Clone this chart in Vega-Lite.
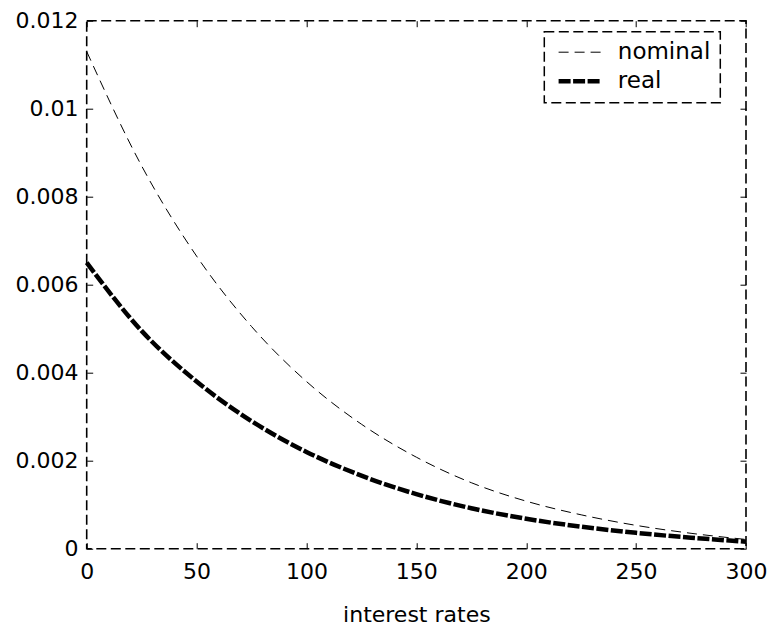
{
  "$schema": "https://vega.github.io/schema/vega-lite/v6.json",
  "width": 659.3,
  "height": 528,
  "autosize": {"type": "none"},
  "padding": {"left": 86.7, "top": 20.7, "right": 28, "bottom": 78.3},
  "background": "white",
  "config": {
    "font": "DejaVu Sans",
    "view": {"stroke": "black", "strokeWidth": 1.6, "strokeDash": [10, 4.5]},
    "legend": {"strokeColor": "black", "strokeWidth": 1.5, "strokeDash": [10, 4.5], "fillColor": "white"},
    "axis": {
      "grid": false,
      "domain": false,
      "tickColor": "black",
      "tickWidth": 1,
      "tickSize": -6,
      "labelColor": "black",
      "labelFontSize": 22,
      "labelFlush": false,
      "labelOverlap": false,
      "titleColor": "black",
      "titleFontWeight": "normal",
      "titleFontSize": 22
    }
  },
  "data": {
    "values": [
      {"rate": 0, "value": 0.0113, "series": "nominal"},
      {"rate": 25, "value": 0.0087, "series": "nominal"},
      {"rate": 50, "value": 0.00665, "series": "nominal"},
      {"rate": 75, "value": 0.00505, "series": "nominal"},
      {"rate": 100, "value": 0.0038, "series": "nominal"},
      {"rate": 125, "value": 0.00283, "series": "nominal"},
      {"rate": 150, "value": 0.00208, "series": "nominal"},
      {"rate": 175, "value": 0.0015, "series": "nominal"},
      {"rate": 200, "value": 0.00108, "series": "nominal"},
      {"rate": 225, "value": 0.00077, "series": "nominal"},
      {"rate": 250, "value": 0.00053, "series": "nominal"},
      {"rate": 275, "value": 0.00035, "series": "nominal"},
      {"rate": 300, "value": 0.00021, "series": "nominal"},
      {"rate": 0, "value": 0.0065, "series": "real"},
      {"rate": 25, "value": 0.00495, "series": "real"},
      {"rate": 50, "value": 0.0038, "series": "real"},
      {"rate": 75, "value": 0.0029, "series": "real"},
      {"rate": 100, "value": 0.0022, "series": "real"},
      {"rate": 125, "value": 0.00166, "series": "real"},
      {"rate": 150, "value": 0.00124, "series": "real"},
      {"rate": 175, "value": 0.00092, "series": "real"},
      {"rate": 200, "value": 0.00068, "series": "real"},
      {"rate": 225, "value": 0.0005, "series": "real"},
      {"rate": 250, "value": 0.00036, "series": "real"},
      {"rate": 275, "value": 0.00025, "series": "real"},
      {"rate": 300, "value": 0.00016, "series": "real"}
    ]
  },
  "layer": [
    {
      "mark": {"type": "line", "color": "black", "interpolate": "monotone"},
      "encoding": {
        "x": {
          "field": "rate",
          "type": "quantitative",
          "scale": {"domain": [0, 300], "nice": false, "zero": false},
          "axis": {
            "orient": "bottom",
            "values": [0, 50, 100, 150, 200, 250, 300],
            "title": "interest rates",
            "labelPadding": 19,
            "titleBaseline": "alphabetic",
            "titleY": 73
          }
        },
        "y": {
          "field": "value",
          "type": "quantitative",
          "scale": {"domain": [0, 0.012], "nice": false},
          "axis": {
            "orient": "left",
            "values": [0, 0.002, 0.004, 0.006, 0.008, 0.01, 0.012],
            "labelExpr": "'' + datum.value",
            "title": null,
            "labelPadding": 14.7
          }
        },
        "strokeDash": {
          "field": "series",
          "type": "nominal",
          "scale": {"domain": ["nominal", "real"], "range": [[10, 6], [12, 2.5]]},
          "legend": {
            "title": null,
            "orient": "none",
            "legendX": 457.6,
            "legendY": 11,
            "padding": 9,
            "symbolType": "M-3.1,0H3.1",
            "symbolSize": 196,
            "symbolOffset": 15.5,
            "labelOffset": 26,
            "labelFontSize": 23,
            "labelColor": "black",
            "rowPadding": 5
          }
        },
        "strokeWidth": {
          "field": "series",
          "type": "nominal",
          "scale": {"domain": ["nominal", "real"], "range": [1, 4.5]},
          "legend": {
            "title": null,
            "orient": "none",
            "legendX": 457.6,
            "legendY": 11,
            "padding": 9,
            "symbolType": "M-3.1,0H3.1",
            "symbolSize": 196,
            "symbolOffset": 15.5,
            "labelOffset": 26,
            "labelFontSize": 23,
            "labelColor": "black",
            "rowPadding": 5
          }
        }
      }
    },
    {
      "mark": {"type": "line", "opacity": 0},
      "encoding": {
        "x": {
          "field": "rate",
          "type": "quantitative",
          "axis": {"orient": "top", "labels": false, "title": null, "values": [0, 50, 100, 150, 200, 250, 300]}
        },
        "y": {
          "field": "value",
          "type": "quantitative",
          "axis": {"orient": "right", "labels": false, "title": null, "values": [0, 0.002, 0.004, 0.006, 0.008, 0.01, 0.012]}
        }
      }
    }
  ],
  "resolve": {"axis": {"x": "independent", "y": "independent"}}
}
